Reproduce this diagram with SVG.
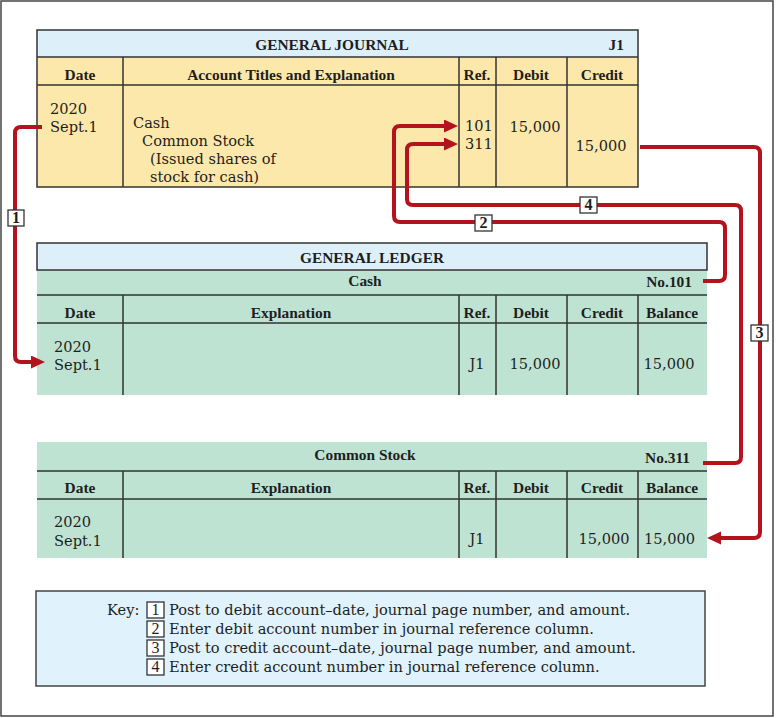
<svg xmlns="http://www.w3.org/2000/svg" width="776" height="718" viewBox="0 0 776 718">
<style>
text{font-family:"DejaVu Serif","Liberation Serif",serif;fill:#1e1e1e}
.b{font-family:"Liberation Serif","DejaVu Serif",serif;font-weight:bold;font-size:15.4px}
.t{font-size:14.6px}
.m{text-anchor:middle}
.e{text-anchor:end}
.ln{stroke:#333;stroke-width:1.5;fill:none}
.blue{fill:#ddf0fa}
.yel{fill:#fde8ab}
.grn{fill:#bee3d3}
.arr{fill:none;stroke:#b3131d;stroke-width:4;stroke-linejoin:round}
.lbl{fill:#fff;stroke:#333;stroke-width:1.3}
.lt{font-family:"Liberation Serif","DejaVu Serif",serif;font-size:16px;text-anchor:middle;font-weight:bold}
.kt{font-family:"Liberation Serif","DejaVu Serif",serif;font-size:16px;text-anchor:middle}
.k{font-size:14.6px}
</style>
<defs>
<marker id="ah" markerUnits="userSpaceOnUse" markerWidth="15" markerHeight="14" refX="4" refY="6.5" orient="auto">
<path d="M0,0 L14,6.5 L0,13 z" fill="#b3131d"/>
</marker>
</defs>
<rect x="1" y="1" width="772" height="715" fill="#fff" stroke="#444" stroke-width="1.5"/>

<g id="journal">
<rect x="37" y="30" width="601" height="27" class="blue"/>
<rect x="37" y="57" width="601" height="130" class="yel"/>
<rect x="37" y="30" width="601" height="157" class="ln"/>
<path class="ln" d="M37,57H638M37,85H638M123,57V187M459,57V187M496,57V187M567,57V187"/>
<text x="332" y="50" class="b m">GENERAL JOURNAL</text>
<text x="624" y="50" class="b e">J1</text>
<text x="80" y="80" class="b m">Date</text>
<text x="291" y="80" class="b m">Account Titles and Explanation</text>
<text x="477" y="80" class="b m">Ref.</text>
<text x="531" y="80" class="b m">Debit</text>
<text x="602" y="80" class="b m">Credit</text>
<text x="50" y="114" class="t">2020</text>
<text x="50" y="132" class="t">Sept.1</text>
<text x="133" y="128" class="t">Cash</text>
<text x="142" y="146" class="t">Common Stock</text>
<text x="150" y="164" class="t">(Issued shares of</text>
<text x="150" y="182" class="t">stock for cash)</text>
<text x="465" y="131" class="t">101</text>
<text x="465" y="149" class="t">311</text>
<text x="535" y="132" class="t m">15,000</text>
<text x="601" y="151" class="t m">15,000</text>
</g>

<g id="ledger-cash">
<rect x="37" y="243" width="670" height="27" class="blue"/>
<rect x="37" y="270" width="670" height="125" class="grn"/>
<rect x="37" y="243" width="670" height="27" class="ln"/>
<path class="ln" d="M37,295H707M37,323H707M123,295V395M459,295V395M496,295V395M567,295V395M638,295V395"/>
<text x="372" y="263" class="b m">GENERAL LEDGER</text>
<text x="365" y="286" class="b m">Cash</text>
<text x="692" y="287" class="b e">No.101</text>
<text x="80" y="318" class="b m">Date</text>
<text x="291" y="318" class="b m">Explanation</text>
<text x="477" y="318" class="b m">Ref.</text>
<text x="531" y="318" class="b m">Debit</text>
<text x="602" y="318" class="b m">Credit</text>
<text x="672" y="318" class="b m">Balance</text>
<text x="54" y="352" class="t">2020</text>
<text x="54" y="370" class="t">Sept.1</text>
<text x="477" y="369" class="t m">J1</text>
<text x="535" y="369" class="t m">15,000</text>
<text x="669" y="369" class="t m">15,000</text>
</g>

<g id="ledger-stock">
<rect x="37" y="442" width="670" height="116" class="grn"/>
<path class="ln" d="M37,471H707M37,499H707M123,471V558M459,471V558M496,471V558M567,471V558M638,471V558"/>
<text x="365" y="460" class="b m">Common Stock</text>
<text x="690" y="463" class="b e">No.311</text>
<text x="80" y="493" class="b m">Date</text>
<text x="291" y="493" class="b m">Explanation</text>
<text x="477" y="493" class="b m">Ref.</text>
<text x="531" y="493" class="b m">Debit</text>
<text x="602" y="493" class="b m">Credit</text>
<text x="672" y="493" class="b m">Balance</text>
<text x="54" y="527" class="t">2020</text>
<text x="54" y="546" class="t">Sept.1</text>
<text x="477" y="544" class="t m">J1</text>
<text x="604" y="544" class="t m">15,000</text>
<text x="644" y="544" class="t">15,000</text>
</g>

<g id="connectors">
<path class="arr" marker-end="url(#ah)" d="M42,127H21Q15,127 15,133V356Q15,362 21,362H35"/>
<path class="arr" marker-end="url(#ah)" d="M703,281H719Q725,281 725,275V228Q725,222 719,222H400Q394,222 394,216V132Q394,126 400,126H448"/>
<path class="arr" marker-end="url(#ah)" d="M640,147H754Q760,147 760,153V532Q760,538 754,538H717"/>
<path class="arr" marker-end="url(#ah)" d="M703,463H735Q741,463 741,457V211Q741,205 735,205H413Q407,205 407,199V150Q407,144 413,144H448"/>
<rect x="8" y="210" width="16" height="16" class="lbl"/>
<text x="16" y="223" class="lt">1</text>
<rect x="475" y="215" width="17" height="16" class="lbl"/>
<text x="483.5" y="228" class="lt">2</text>
<rect x="751" y="325" width="17" height="16" class="lbl"/>
<text x="759.5" y="338" class="lt">3</text>
<rect x="580" y="197" width="17" height="16" class="lbl"/>
<text x="588.5" y="210" class="lt">4</text>
</g>

<g id="key">
<rect x="36" y="591" width="669" height="95" fill="#e0f2fb" stroke="#444" stroke-width="1.5"/>
<text x="107" y="615" class="k">Key:</text>
<rect x="147" y="602" width="17" height="16" class="lbl"/>
<text x="155.5" y="615" class="kt">1</text>
<text x="169" y="615" class="k">Post to debit account–date, journal page number, and amount.</text>
<rect x="147" y="621" width="17" height="16" class="lbl"/>
<text x="155.5" y="634" class="kt">2</text>
<text x="169" y="634" class="k">Enter debit account number in journal reference column.</text>
<rect x="147" y="640" width="17" height="16" class="lbl"/>
<text x="155.5" y="653" class="kt">3</text>
<text x="169" y="653" class="k">Post to credit account–date, journal page number, and amount.</text>
<rect x="147" y="659" width="17" height="16" class="lbl"/>
<text x="155.5" y="672" class="kt">4</text>
<text x="169" y="672" class="k">Enter credit account number in journal reference column.</text>
</g>
</svg>
